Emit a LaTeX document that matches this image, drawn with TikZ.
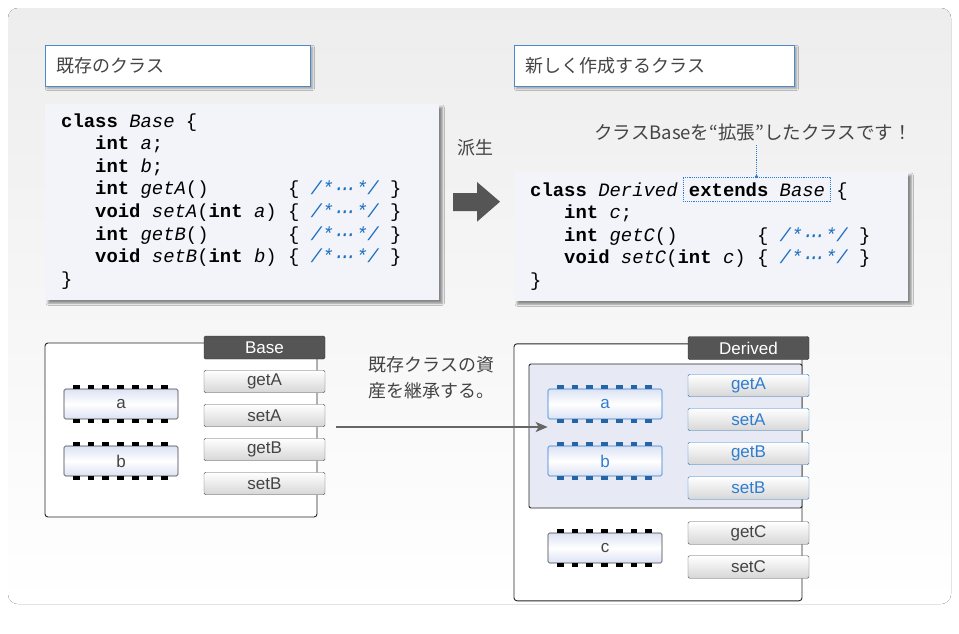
\documentclass[tikz,border=0pt]{standalone}
\usepackage{fontspec}
\setmainfont{Liberation Sans}
\newfontfamily\jpfont{Noto Sans CJK JP}
\newfontfamily\codefont{Liberation Mono}
\usetikzlibrary{calc}
\usetikzlibrary{positioning}
\usetikzlibrary{arrows.meta}
\usetikzlibrary{shadows.blur}

\definecolor{labelblue}{HTML}{4C88CC}
\definecolor{codebg}{HTML}{F3F4F9}
\definecolor{cmtblue}{HTML}{1B6EC2}
\definecolor{headgray}{HTML}{555555}
\definecolor{txtgray}{HTML}{444444}
\definecolor{chipshade}{HTML}{DCE2F4}
\definecolor{innerbg}{HTML}{E7EAF5}
\definecolor{methblue}{HTML}{2F7DCF}

% comment in the code listings
\newcommand\cmnt{\textcolor{cmtblue}{\itshape /*\makebox[1.2em]{·\kern-.28em·\kern-.28em·}*/}}

\tikzset{
  caption/.style={draw=labelblue, fill=white, line width=0.8pt, anchor=north west,
    minimum height=41pt, inner xsep=11pt, align=left, text=txtgray,
    font=\jpfont\fontsize{18}{20}\selectfont,
    blur shadow={shadow xshift=2pt, shadow yshift=-2pt, shadow blur steps=4, shadow opacity=35}},
  codebox/.style={fill=codebg, anchor=north west, inner sep=0pt,
    blur shadow={shadow xshift=3pt, shadow yshift=-3pt, shadow blur steps=4, shadow opacity=45}},
  code/.style={anchor=base west, inner sep=0pt, font=\codefont\fontsize{18.9}{22}\selectfont},
  jptext/.style={text=txtgray, font=\jpfont\fontsize{18}{26}\selectfont},
  obj/.style={draw=black!85, fill=white, line width=0.9pt, rounded corners=3pt},
  head/.style={draw=black!80, fill=headgray, text=white, rounded corners=1.5pt,
    minimum width=121pt, minimum height=23pt, inner sep=0pt, font=\fontsize{17}{17}\selectfont},
  meth/.style={draw=black!65, rounded corners=1.5pt, top color=white, bottom color=black!16,
    minimum width=121pt, minimum height=22.5pt, inner sep=0pt, text=txtgray,
    font=\fontsize{17}{17}\selectfont},
  bmeth/.style={meth, draw=methblue, text=methblue},
  chip/.style={draw=black!75, line width=0.6pt, rounded corners=1.5pt,
    top color=chipshade, bottom color=chipshade, middle color=white,
    minimum width=114pt, minimum height=30pt, inner sep=0pt, text=txtgray,
    font=\fontsize{17}{17}\selectfont},
  bchip/.style={chip, draw=methblue, text=methblue},
}

\begin{document}
\begin{tikzpicture}[x=1pt, y=-1pt, line join=round]
  \useasboundingbox (0,0) rectangle (959,633);
  % background panel
  \fill[top color=black!7, middle color=black!5, bottom color=white, rounded corners=10pt]
    (8,8) rectangle (951,604);

  % captions
  \node[caption, minimum width=265pt, text width=243pt] (capold) at (45,45) {既存のクラス};
  \node[caption, minimum width=280pt, text width=258pt] (capnew) at (514,45) {新しく作成するクラス};

  % existing class code
  \node[codebox, minimum width=394pt, minimum height=196pt] (codeold) at (45,104) {};
  \node[code] (ol1) at (61,127)   {\textbf{class} \textit{Base} \{};
  \node[code] (ol2) at (61,149.6) {~~~\textbf{int} \textit{a};};
  \node[code] (ol3) at (61,172.3) {~~~\textbf{int} \textit{b};};
  \node[code] (ol4) at (61,194.9) {~~~\textbf{int} \textit{getA}()~~~~~~~\{ \cmnt{} \}};
  \node[code] (ol5) at (61,217.6) {~~~\textbf{void} \textit{setA}(\textbf{int} \textit{a}) \{ \cmnt{} \}};
  \node[code] (ol6) at (61,240.2) {~~~\textbf{int} \textit{getB}()~~~~~~~\{ \cmnt{} \}};
  \node[code] (ol7) at (61,262.9) {~~~\textbf{void} \textit{setB}(\textbf{int} \textit{b}) \{ \cmnt{} \}};
  \node[code] (ol8) at (61,285.5) {\}};

  % derivation
  \node[jptext] (derive) at (475,148) {派生};
  \fill[headgray] (453,193) -- (477,193) -- (477,182) -- (500,201.7) -- (477,221.7)
    -- (477,211) -- (453,211) -- cycle;

  % new class code
  \node[codebox, minimum width=394pt, minimum height=129pt] (codenew) at (514,172) {};
  \node[code] (nl1) at (530,196)   {\textbf{class} \textit{Derived} \textbf{extends} \textit{Base} \{};
  \node[code] (nl2) at (530,218.5) {~~~\textbf{int} \textit{c};};
  \node[code] (nl3) at (530,241)   {~~~\textbf{int} \textit{getC}()~~~~~~~\{ \cmnt{} \}};
  \node[code] (nl4) at (530,263.5) {~~~\textbf{void} \textit{setC}(\textbf{int} \textit{c}) \{ \cmnt{} \}};
  \node[code] (nl5) at (530,286)   {\}};
  \node[draw=methblue, densely dotted, line width=0.9pt, minimum width=147pt, minimum height=24pt]
    (ext) at (756.5,189) {};
  \node[text=txtgray, font=\jpfont\fontsize{18.5}{19}\selectfont, inner sep=4pt] (note) at (753,132)
    {クラスBaseを“拡張”したクラスです！};
  \draw[methblue, densely dotted, line width=0.9pt] (ext.north) -- (ext.north |- note.south);
  \fill[methblue] (ext.north) circle (1.7);

  % Base object
  \node[obj, minimum width=272pt, minimum height=174pt] (baseobj) at (181,430) {};
  \node[head] (basehead) at (264.5,347.5) {Base};
  \node[meth] (getA) at (264.5,381.5) {getA};
  \node[meth] (setA) at (264.5,415.5) {setA};
  \node[meth] (getB) at (264.5,449.5) {getB};
  \node[meth] (setB) at (264.5,483.5) {setB};
  \node[chip] (ca) at (121,404) {a};
  \node[chip] (cb) at (121,461) {b};

  % Derived object
  \node[obj, minimum width=288pt, minimum height=257pt] (derobj) at (658,472.3) {};
  \node[obj, fill=innerbg, rounded corners=2pt, minimum width=273pt, minimum height=144pt]
    (inner) at (665.5,436) {};
  \node[head] (derhead) at (748.5,348) {Derived};
  \node[bmeth] (dgetA) at (748.5,385.5) {getA};
  \node[bmeth] (dsetA) at (748.5,419.5) {setA};
  \node[bmeth] (dgetB) at (748.5,453.5) {getB};
  \node[bmeth] (dsetB) at (748.5,488)   {setB};
  \node[meth] (dgetC) at (748.5,533) {getC};
  \node[meth] (dsetC) at (748.5,567) {setC};
  \node[bchip] (da) at (605,404) {a};
  \node[bchip] (db) at (605,461) {b};
  \node[chip]  (dc) at (605,548) {c};

  % pins of the fields
  \foreach \c/\col in {ca/black, cb/black, da/methblue!80!black, db/methblue!80!black, dc/black}{
    \foreach \i in {0,...,6}{
      \fill[\col] ($(\c.north west)+(9.3+14.7*\i,0.5)$) rectangle ++(6.7,-4.5);
      \fill[\col] ($(\c.south west)+(9.3+14.7*\i,-0.5)$) rectangle ++(6.7,4.5);
    }
  }

  % inheritance
  \node[jptext, anchor=west, align=left] (inhnote) at (365,378) {既存クラスの資\\産を継承する。};
  \coordinate (inhfrom) at (336,427);
  \draw[black!60, line width=2pt, -{Stealth[length=12pt, width=10pt, inset=3pt]}]
    (inhfrom) -- (inhfrom -| da.west);
\end{tikzpicture}
\end{document}
